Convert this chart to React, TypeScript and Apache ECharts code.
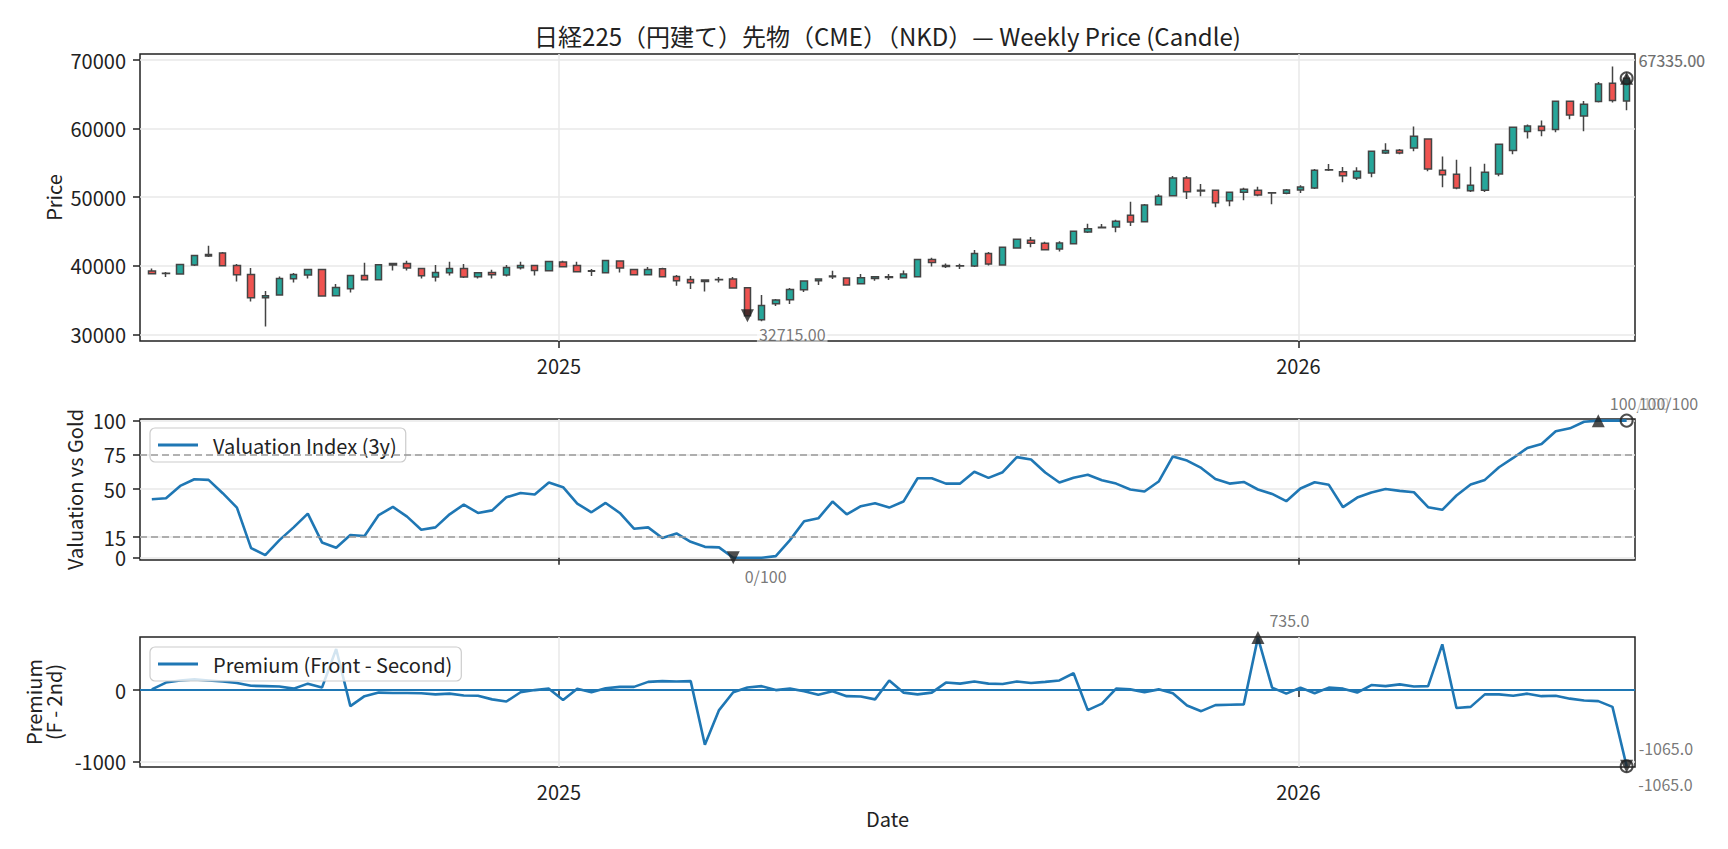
import { useEffect, useRef } from "react";
import * as echarts from "echarts";

// Weekly bars start on this date; one bar per week.
const FIRST_WEEK = "2024-06-14";
const X_MIN = Date.parse("2024-06-08T04:00:00Z");
const X_MAX = Date.parse("2026-06-16T03:00:00Z");

const openPrices = [
  39221, 38900, 38784, 40097, 41411, 41849, 40049, 38735, 35330, 35718,
  38102, 38638, 39465, 35621, 36642, 38589, 37956, 40097, 40341, 39611,
  38346, 38978, 39611, 38394, 39027, 38638, 39708, 40049, 39270, 40535,
  40049, 39250, 38978, 40681, 39465, 38686, 39562, 38443, 38005, 37713,
  37950, 38054, 36788, 32117, 34453, 35037, 36496, 37810, 38394, 38200,
  37372, 38151, 38297, 38248, 38394, 40925, 40050, 39950, 39951, 41800,
  40097, 42579, 43698, 43260, 42433, 43212, 44915, 45547, 45645, 47348,
  46423, 48905, 50219, 52798, 51000, 50997, 49489, 50705, 50997, 50657,
  50559, 51046, 51338, 53966, 53722, 52798, 53528, 56447, 56837, 57177,
  58491, 53917, 53333, 50949, 50997, 53382, 56788, 59561, 60340, 59854,
  63990, 61849, 63941, 66617, 64038,
];
const closePrices = [
  38832, 38880, 40195, 41508, 41654, 40000, 38686, 35329, 35620, 38151,
  38735, 39465, 35572, 36837, 38589, 37956, 40146, 40341, 39659, 38540,
  39027, 39611, 38346, 38978, 38686, 39757, 40049, 39319, 40633, 39854,
  39124, 39200, 40779, 39659, 38686, 39465, 38394, 37810, 37518, 37908,
  38000, 36740, 32715, 34209, 34988, 36545, 37762, 38054, 38492, 37178,
  38248, 38394, 38394, 38784, 40925, 40487, 39900, 40000, 41800, 40243,
  42676, 43844, 43260, 42336, 43309, 45012, 45401, 45596, 46472, 46374,
  48856, 50122, 52798, 50803, 50900, 49197, 50705, 51143, 50316, 50608,
  51046, 51484, 53917, 54014, 53138, 53771, 56691, 56788, 56447, 58880,
  54111, 53284, 51338, 51727, 53625, 57713, 60194, 60389, 59708, 63990,
  61995, 63552, 66520, 64087, 67335,
];
const lowPrices = [
  38735, 38346, 38735, 39951, 41265, 40000, 37713, 34793, 31144, 35669,
  37567, 38151, 35572, 35621, 36107, 37908, 37956, 39319, 39319, 38151,
  37713, 38589, 38200, 38151, 38151, 38443, 39465, 38589, 39173, 39757,
  39075, 38492, 38978, 39027, 38638, 38638, 38346, 37080, 36594, 36253,
  37567, 36740, 32715, 31900, 34112, 34404, 36156, 37178, 38054, 37080,
  37372, 37810, 37908, 38248, 38346, 39903, 39660, 39510, 39805, 40049,
  40049, 42482, 42676, 42238, 42092, 43163, 44769, 45450, 44866, 45791,
  46374, 48856, 50170, 49732, 50120, 48515, 48661, 49538, 50122, 48953,
  50413, 50608, 51192, 53820, 52165, 52506, 52895, 56300, 56250, 56691,
  53771, 51435, 51143, 50754, 50754, 53041, 56253, 58540, 58880, 59465,
  61363, 59611, 63795, 63795, 62676,
];
const highPrices = [
  39611, 39075, 40292, 41606, 42919, 41995, 40243, 39659, 36302, 38443,
  38930, 39513, 39513, 37324, 38686, 40438, 40195, 40389, 40730, 39659,
  40097, 40584, 40243, 39027, 39416, 40097, 40584, 40097, 40730, 40730,
  40584, 39513, 40876, 40779, 39513, 39805, 39708, 38638, 38492, 37956,
  38346, 38346, 36850, 35718, 35134, 36740, 37860, 38151, 39270, 38297,
  38784, 38492, 38784, 39319, 41022, 41168, 40340, 40290, 42287, 41995,
  42725, 43941, 44185, 43503, 43552, 45109, 46131, 46082, 46715, 49343,
  49003, 50413, 53090, 53090, 51920, 51046, 50803, 51387, 51532, 50754,
  51192, 51727, 54112, 54842, 54404, 54355, 56788, 57858, 57032, 60292,
  58540, 55912, 55474, 54452, 54890, 57810, 60292, 60584, 61168, 64087,
  64087, 64038, 66812, 69050, 67900,
];

const valuationIndex = [
  42.7, 43.4, 52.4, 57.3, 56.8, 47.1, 36.6, 7.1, 2.0, 12.9,
  22.2, 32.2, 11.2, 7.3, 16.6, 15.9, 31.2, 37.1, 30.0, 20.5,
  22.2, 31.7, 38.8, 32.7, 34.6, 44.1, 47.3, 46.1, 54.9, 51.5,
  39.5, 33.2, 40.0, 32.7, 21.2, 22.2, 14.4, 17.8, 11.7, 8.0,
  7.6, 0, 0, 0, 1.2, 12.9, 26.6, 28.8, 41.0, 31.7,
  37.6, 39.8, 36.6, 41.0, 58.0, 58.0, 54.1, 54.1, 62.7, 58.3,
  62.4, 73.4, 71.7, 62.2, 54.9, 58.3, 60.5, 56.6, 54.1, 49.8,
  48.3, 55.6, 73.9, 70.9, 65.5, 57.5, 54.1, 55.3, 49.8, 46.6,
  41.3, 50.5, 55.1, 53.2, 36.9, 43.9, 47.6, 50.2, 48.8, 47.8,
  36.9, 35.0, 45.4, 53.4, 56.8, 66.0, 72.8, 80.1, 83.0, 92.2,
  94.4, 99.2, 100, 100, 100,
];

const premiumSpread = [
  10, 105, 135, 150, 135, 120, 100, 60, 55, 50,
  20, 90, 35, 575, -225, -85, -35, -40, -40, -45,
  -60, -50, -75, -80, -130, -160, -30, 0, 20, -140,
  20, -30, 25, 45, 45, 115, 125, 120, 125, -765,
  -280, -30, 35, 55, 0, 20, -15, -65, -15, -85,
  -90, -130, 135, -35, -60, -35, 105, 90, 120, 90,
  85, 120, 100, 115, 135, 235, -280, -190, 20, 10,
  -30, 10, -45, -215, -295, -210, -205, -200, 735, 35,
  -50, 35, -45, 35, 20, -35, 70, 55, 80, 50,
  55, 640, -250, -235, -60, -60, -80, -50, -85, -80,
  -120, -145, -155, -235, -1065,
];

const yearTickDates = ["2025-01-01", "2026-01-01"];
const priceTicks = [30000, 40000, 50000, 60000, 70000];
const valuationTicks = [0, 15, 50, 75, 100];
const valuationBands = [15, 75];
const premiumTicks = [-1000, 0];

const TITLE = "日経225（円建て）先物（CME）（NKD）— Weekly Price (Candle)";
const FONT = '"Noto Sans CJK JP", "Noto Sans", sans-serif';
const INK = "#222";
const NOTE = "#555";
const GRID_LINE = "#e9e9e9";
const BLUE = "#1f77b4";
const UP = "#26a69a";
const DOWN = "#ef5350";

const LEFT = 140;
const WIDTH = 1495;
const panels = [
  { top: 54, height: 287 },
  { top: 419, height: 141 },
  { top: 637, height: 130 },
];

const DAY_MS = 86400000;
const weekTimes = openPrices.map((_, i) => Date.parse(FIRST_WEEK) + i * 7 * DAY_MS);
const yearTicks = yearTickDates.map((d) => Date.parse(d));

const argMin = (a: number[]) => a.indexOf(Math.min(...a));
const argMax = (a: number[]) => a.indexOf(Math.max(...a));

type Kind = "min" | "max" | "last";

function markerItem(values: number[], idx: number, kind: Kind, fmt: (v: number) => string) {
  const below = kind === "min";
  const base: any = {
    value: [weekTimes[idx], values[idx]],
    symbolSize: kind === "last" ? 12 : 13,
    label: {
      show: true,
      position: "right",
      distance: 3,
      offset: [0, below ? 18 : -18],
      formatter: () => fmt(values[idx]),
      color: NOTE,
      fontSize: 16,
      fontFamily: FONT,
      backgroundColor: "rgba(255,255,255,0.7)",
      padding: [1, 2],
    },
  };
  if (kind === "last") {
    base.symbol = "circle";
    base.itemStyle = { color: "rgba(0,0,0,0)", borderColor: INK, borderWidth: 2 };
  } else {
    base.symbol = "triangle";
    base.symbolRotate = below ? 180 : 0;
    base.itemStyle = { color: INK };
  }
  return base;
}

function markerSeries(panel: number, values: number[], fmt: (v: number) => string) {
  const last = values.length - 1;
  return {
    type: "scatter",
    xAxisIndex: panel,
    yAxisIndex: panel,
    z: 5,
    silent: true,
    clip: false,
    data: [
      markerItem(values, argMin(values), "min", fmt),
      markerItem(values, argMax(values), "max", fmt),
      markerItem(values, last, "last", fmt),
    ],
  };
}

function xAxisFor(gridIndex: number, showLabels: boolean) {
  return {
    type: "value",
    gridIndex,
    min: X_MIN,
    max: X_MAX,
    axisLine: { show: false },
    axisTick: {
      show: true,
      customValues: yearTicks,
      length: 7,
      lineStyle: { color: INK, width: 1.5 },
    },
    axisLabel: {
      show: showLabels,
      customValues: yearTicks,
      formatter: (v: number) => String(new Date(v).getUTCFullYear()),
      fontSize: 20,
      color: INK,
      fontFamily: FONT,
      margin: 14,
    },
    splitLine: { show: true, lineStyle: { color: GRID_LINE, width: 1.5 } },
  };
}

function yAxisFor(gridIndex: number, min: number, max: number, ticks: number[]) {
  return {
    type: "value",
    gridIndex,
    min,
    max,
    axisLine: { show: false },
    axisTick: {
      show: true,
      customValues: ticks,
      length: 7,
      lineStyle: { color: INK, width: 1.5 },
    },
    axisLabel: {
      customValues: ticks,
      formatter: (v: number) => String(v),
      fontSize: 20,
      color: INK,
      fontFamily: FONT,
      margin: 14,
    },
    splitLine: { show: true, lineStyle: { color: GRID_LINE, width: 1.5 } },
  };
}

function legendFor(name: string, top: number) {
  return {
    data: [name],
    left: 150,
    top,
    orient: "horizontal",
    icon: "rect",
    itemWidth: 40,
    itemHeight: 3,
    padding: [7, 9, 7, 8],
    backgroundColor: "rgba(255,255,255,0.8)",
    borderColor: "#cccccc",
    borderWidth: 1.2,
    borderRadius: 5,
    textStyle: { fontSize: 20, color: INK, fontFamily: FONT, padding: [0, 0, 0, 10] },
    selectedMode: false,
  };
}

function axisTitle(text: string, x: number, y: number) {
  return {
    type: "text",
    x,
    y,
    rotation: Math.PI / 2,
    silent: true,
    style: {
      text,
      fill: INK,
      font: `20px ${FONT}`,
      textAlign: "center",
      textVerticalAlign: "middle",
    },
  };
}

function buildOption() {
  const candles = weekTimes.map((t, i) => [t, openPrices[i], closePrices[i], lowPrices[i], highPrices[i]]);
  const valuationLine = weekTimes.map((t, i) => [t, valuationIndex[i]]);
  const premiumLine = weekTimes.map((t, i) => [t, premiumSpread[i]]);
  const centerX = LEFT + WIDTH / 2;

  return {
    animation: false,
    backgroundColor: "#ffffff",
    textStyle: { fontFamily: FONT },
    grid: panels.map((p) => ({
      left: LEFT,
      top: p.top,
      width: WIDTH,
      height: p.height,
      show: true,
      borderColor: INK,
      borderWidth: 1.5,
      backgroundColor: "rgba(0,0,0,0)",
    })),
    xAxis: [xAxisFor(0, true), xAxisFor(1, false), xAxisFor(2, true)],
    yAxis: [
      yAxisFor(0, 29020, 70880, priceTicks),
      yAxisFor(1, -1.6, 101.2, valuationTicks),
      yAxisFor(2, -1075.65, 742.35, premiumTicks),
    ],
    legend: [
      legendFor("Valuation Index (3y)", 428),
      legendFor("Premium (Front - Second)", 647),
    ],
    graphic: [
      {
        type: "text",
        x: centerX,
        y: 35,
        silent: true,
        style: {
          text: TITLE,
          fill: INK,
          font: `24px ${FONT}`,
          textAlign: "center",
          textVerticalAlign: "middle",
        },
      },
      {
        type: "text",
        x: centerX,
        y: 818,
        silent: true,
        style: {
          text: "Date",
          fill: INK,
          font: `20px ${FONT}`,
          textAlign: "center",
          textVerticalAlign: "middle",
        },
      },
      axisTitle("Price", 53, panels[0].top + panels[0].height / 2),
      axisTitle("Valuation vs Gold", 74, panels[1].top + panels[1].height / 2),
      axisTitle("Premium\n(F - 2nd)", 43, panels[2].top + panels[2].height / 2),
    ],
    series: [
      {
        name: "Price",
        type: "candlestick",
        xAxisIndex: 0,
        yAxisIndex: 0,
        barWidth: 7,
        encode: { x: 0, y: [1, 2, 3, 4] },
        data: candles,
        itemStyle: {
          color: UP,
          color0: DOWN,
          borderColor: "#444",
          borderColor0: "#444",
          borderWidth: 1.5,
        },
      },
      markerSeries(0, closePrices, (v) => v.toFixed(2)),
      {
        name: "Valuation Index (3y)",
        type: "line",
        xAxisIndex: 1,
        yAxisIndex: 1,
        symbol: "none",
        data: valuationLine,
        lineStyle: { color: BLUE, width: 2.6 },
        itemStyle: { color: BLUE },
        z: 3,
        markLine: {
          silent: true,
          symbol: "none",
          label: { show: false },
          lineStyle: { color: "#999", type: [7, 4], width: 1.5 },
          data: valuationBands.map((b) => ({ yAxis: b })),
        },
      },
      markerSeries(1, valuationIndex, (v) => `${v.toFixed(0)}/100`),
      {
        name: "Premium (Front - Second)",
        type: "line",
        xAxisIndex: 2,
        yAxisIndex: 2,
        symbol: "none",
        data: premiumLine,
        lineStyle: { color: BLUE, width: 2.6 },
        itemStyle: { color: BLUE },
        z: 3,
        markLine: {
          silent: true,
          symbol: "none",
          label: { show: false },
          lineStyle: { color: BLUE, type: "solid", width: 1.8 },
          data: [{ yAxis: 0 }],
        },
      },
      markerSeries(2, premiumSpread, (v) => v.toFixed(1)),
    ],
  };
}

export default function App() {
  const ref = useRef<HTMLDivElement>(null);
  useEffect(() => {
    if (!ref.current) return;
    const chart = echarts.init(ref.current, undefined, { renderer: "svg" });
    chart.setOption(buildOption() as any);
    return () => chart.dispose();
  }, []);
  return (
    <div
      ref={ref}
      style={{ position: "fixed", left: 0, top: 0, width: 1728, height: 849, background: "#fff" }}
    />
  );
}
